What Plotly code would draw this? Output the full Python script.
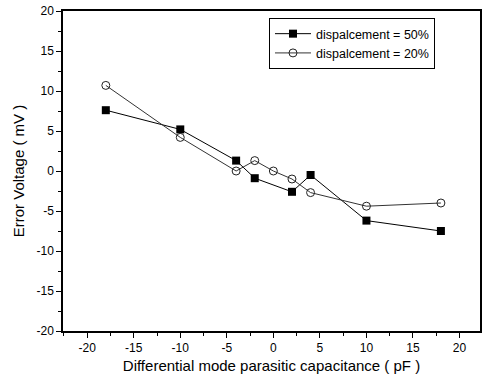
import plotly.graph_objects as go

x50 = [-18, -10, -4, -2, 2, 4, 10, 18]
y50 = [7.6, 5.2, 1.3, -0.9, -2.6, -0.5, -6.2, -7.5]
x20 = [-18, -10, -4, -2, 0, 2, 4, 10, 18]
y20 = [10.7, 4.2, 0.0, 1.3, 0.0, -1.0, -2.7, -4.4, -4.0]
name50 = "dispalcement = 50%"
name20 = "dispalcement = 20%"
tick_vals = [-20, -15, -10, -5, 0, 5, 10, 15, 20]
tick_text = ["-20", "-15", "-10", "-5", "0", "5", "10", "15", "20"]

fig = go.Figure()
fig.add_trace(go.Scatter(x=x50, y=y50, name=name50, mode="lines+markers",
                         line=dict(color="black", width=1),
                         marker=dict(symbol="square", size=8, color="black")))
fig.add_trace(go.Scatter(x=x20, y=y20, name=name20, mode="lines+markers",
                         line=dict(color="#333", width=1),
                         marker=dict(symbol="circle-open", size=8, color="#222", line=dict(width=1))))

font = "Liberation Sans, Arial, sans-serif"
axis_common = dict(
    tickvals=tick_vals, ticktext=tick_text,
    ticks="outside", ticklen=5, tickwidth=1, tickcolor="black",
    minor=dict(dtick=2.5, tick0=0, ticks="outside", ticklen=3, tickcolor="black"),
    showline=True, linecolor="black", linewidth=1.5, mirror=True,
    showgrid=False, zeroline=False, tickfont=dict(size=12),
)
fig.update_layout(
    width=484, height=380,
    margin=dict(l=63, r=2, t=11, b=49),
    paper_bgcolor="white", plot_bgcolor="white",
    font=dict(family=font, color="black", size=12),
    showlegend=True,
    legend=dict(x=0.494, y=0.978, xanchor="left", yanchor="top",
                bordercolor="black", borderwidth=1, bgcolor="white",
                font=dict(size=12.5), tracegroupgap=0, itemwidth=36),
    xaxis=dict(range=[-22.6, 22.2],
               title=dict(text="Differential mode parasitic capacitance ( pF )", font=dict(size=15), standoff=6),
               **axis_common),
    yaxis=dict(range=[-20, 20],
               title=dict(text="Error Voltage ( mV )", font=dict(size=15), standoff=8),
               **axis_common),
)
fig.write_html("out.html", config={"displayModeBar": False},
               post_script="document.body.style.margin='0px';")
